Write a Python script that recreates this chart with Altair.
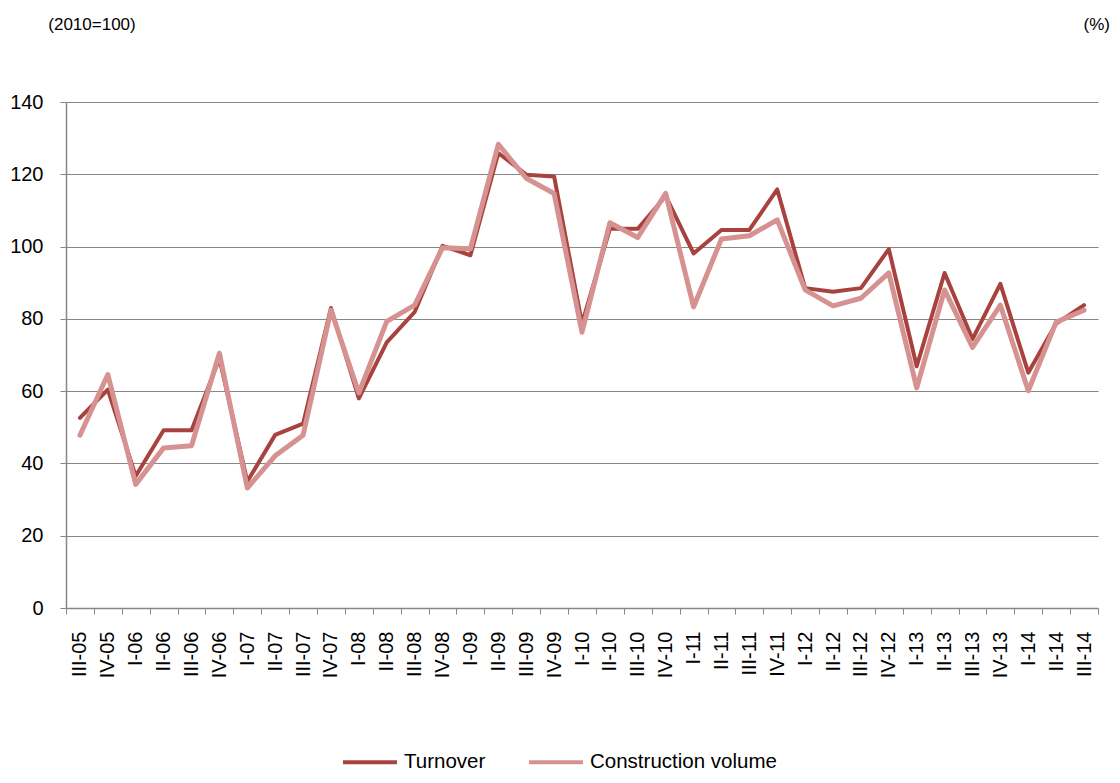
import altair as alt
import pandas as pd

quarters = ["III-05", "IV-05",
            "I-06", "II-06", "III-06", "IV-06",
            "I-07", "II-07", "III-07", "IV-07",
            "I-08", "II-08", "III-08", "IV-08",
            "I-09", "II-09", "III-09", "IV-09",
            "I-10", "II-10", "III-10", "IV-10",
            "I-11", "II-11", "III-11", "IV-11",
            "I-12", "II-12", "III-12", "IV-12",
            "I-13", "II-13", "III-13", "IV-13",
            "I-14", "II-14", "III-14"]

turnover = [52.6, 60.4, 36.5, 49.2, 49.2, 69.0, 35.0, 47.9, 51.0, 83.0,
            58.0, 73.5, 81.9, 100.2, 97.6, 125.9, 119.9, 119.4, 78.7, 104.9,
            104.9, 114.0, 98.1, 104.6, 104.6, 115.8, 88.5, 87.5, 88.5, 99.3,
            66.9, 92.7, 74.4, 89.7, 65.1, 78.7, 83.8]

construction = [47.8, 64.6, 34.2, 44.3, 44.9, 70.5, 33.2, 42.1, 47.8, 82.4,
                59.5, 79.3, 83.8, 99.7, 99.4, 128.3, 118.9, 114.7, 76.3, 106.6,
                102.5, 114.7, 83.3, 102.1, 103.0, 107.4, 88.0, 83.6, 85.7, 92.7,
                60.9, 88.0, 72.1, 83.8, 60.1, 79.1, 82.4]

series_names = ["Turnover", "Construction volume"]
series_colors = ["#A8423E", "#D69290"]
y_ticks = [0, 20, 40, 60, 80, 100, 120, 140]
left_note = "(2010=100)"
right_note = "(%)"

FONT = "Liberation Sans"
GRAY = "#878787"

df = pd.DataFrame({
    "quarter": quarters + quarters,
    "series": [series_names[0]] * len(quarters) + [series_names[1]] * len(quarters),
    "value": turnover + construction,
})

x_enc = alt.X(
    "quarter:N", sort=quarters, bandPosition=0.5,
    scale=alt.Scale(type="band", paddingInner=0, paddingOuter=0),
    axis=alt.Axis(title=None, labelAngle=-90, tickBand="extent", grid=False,
                  domainColor=GRAY, domainWidth=1.5, tickColor=GRAY, tickWidth=1,
                  tickSize=6, labelPadding=17, labelFont=FONT, labelFontSize=20,
                  labelColor="#000000", labelAlign="right", labelBaseline="middle"),
)
y_enc = alt.Y(
    "value:Q",
    scale=alt.Scale(domain=[0, 140], nice=False),
    axis=alt.Axis(title=None, values=y_ticks, grid=True, gridColor=GRAY, gridWidth=1,
                  domainColor=GRAY, domainWidth=1.5, tickColor=GRAY, tickSize=6,
                  labelPadding=17, labelFont=FONT, labelFontSize=20, labelColor="#000000"),
)
color_enc = alt.Color(
    "series:N",
    scale=alt.Scale(domain=series_names, range=series_colors),
    legend=alt.Legend(title=None, orient="none", legendX=275, legendY=631,
                      direction="horizontal", symbolType="stroke", symbolSize=2916,
                      symbolStrokeWidth=4, labelFont=FONT, labelFontSize=20.5,
                      labelColor="#000000", labelOffset=5, columnPadding=35, padding=0,
                      labelLimit=0),
)

base = alt.Chart(df)
line_turn = base.transform_filter(alt.datum.series == series_names[0]).mark_line(
    strokeWidth=4, strokeJoin="round", strokeCap="round"
).encode(x=x_enc, y=y_enc, color=color_enc)
line_cons = base.transform_filter(alt.datum.series == series_names[1]).mark_line(
    strokeWidth=5, strokeJoin="round", strokeCap="round"
).encode(x=x_enc, y=y_enc, color=color_enc)

note_left = alt.Chart(pd.DataFrame({"t": [left_note]})).mark_text(
    font=FONT, fontSize=17, align="center", baseline="alphabetic", color="#000000"
).encode(text="t:N", x=alt.value(26), y=alt.value(-72.5))
note_right = alt.Chart(pd.DataFrame({"t": [right_note]})).mark_text(
    font=FONT, fontSize=17, align="right", baseline="alphabetic", color="#000000"
).encode(text="t:N", x=alt.value(1044), y=alt.value(-72.5))

chart = alt.layer(line_turn, line_cons, note_left, note_right).properties(
    width=1032, height=506,
    autosize=alt.AutoSizeParams(type="none"),
    padding={"left": 58, "top": 94, "right": 14, "bottom": 167},
).configure_view(stroke=None)

chart.save("out.html", embed_options={"renderer": "svg", "actions": False})
